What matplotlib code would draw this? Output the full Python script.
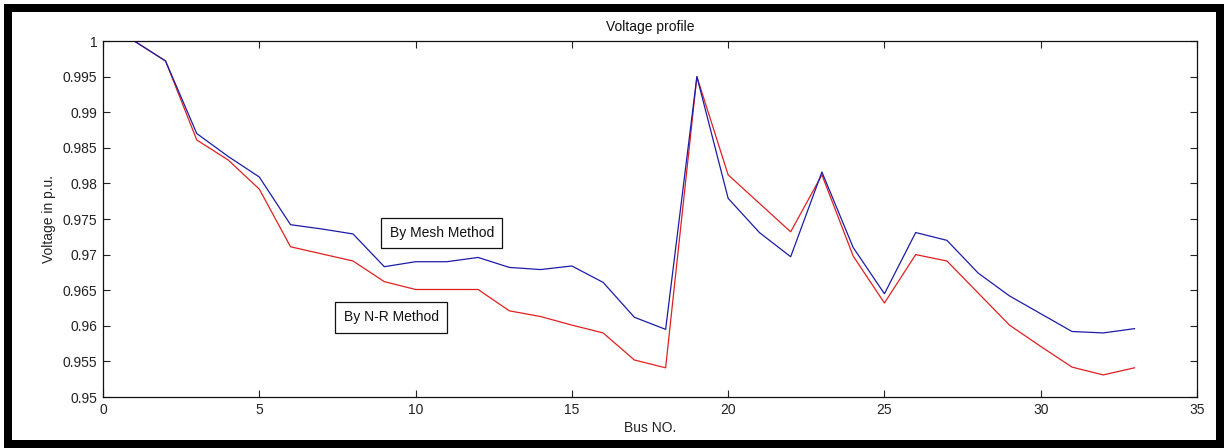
import matplotlib
matplotlib.use("Agg")
import matplotlib.pyplot as plt
from matplotlib.patches import Rectangle
from matplotlib.ticker import FormatStrFormatter

# Bus voltages (p.u.) for the 33-bus feeder
bus_no = list(range(1, 34))
v_mesh = [1.0000, 0.9972, 0.9870, 0.9838, 0.9809, 0.9742, 0.9736, 0.9729,
          0.9683, 0.9690, 0.9690, 0.9696, 0.9682, 0.9679, 0.9684, 0.9661,
          0.9612, 0.9595, 0.9950, 0.9779, 0.9731, 0.9697, 0.9816, 0.9710,
          0.9645, 0.9731, 0.9720, 0.9674, 0.9642, 0.9617, 0.9592, 0.9590,
          0.9596]
v_nr = [1.0000, 0.9972, 0.9861, 0.9833, 0.9792, 0.9711, 0.9701, 0.9691,
        0.9662, 0.9651, 0.9651, 0.9651, 0.9621, 0.9613, 0.9601, 0.9590,
        0.9552, 0.9541, 0.9950, 0.9812, 0.9772, 0.9732, 0.9812, 0.9698,
        0.9632, 0.9700, 0.9691, 0.9646, 0.9601, 0.9571, 0.9542, 0.9531,
        0.9541]

x_ticks = [0, 5, 10, 15, 20, 25, 30, 35]
y_ticks = [0.95, 0.955, 0.96, 0.965, 0.97, 0.975, 0.98, 0.985, 0.99, 0.995, 1.0]

plt.rcParams["font.family"] = ["Liberation Sans", "DejaVu Sans"]

W, H = 1225, 448
fig = plt.figure(figsize=(W / 100, H / 100), dpi=100)
fig.patch.set_facecolor("white")

ax = fig.add_axes([103 / W, (H - 397) / H, 1094 / W, 356 / H])

ax.plot(bus_no, v_nr, color="#e02020", lw=0.9)
ax.plot(bus_no, v_mesh, color="#1c1ca8", lw=0.9)

ax.set_xlim(0, 35)
ax.set_ylim(0.95, 1.0)
ax.set_xticks(x_ticks)
ax.set_yticks(y_ticks)
ax.yaxis.set_major_formatter(FormatStrFormatter("%g"))
ax.xaxis.set_major_formatter(FormatStrFormatter("%g"))

ax.tick_params(direction="in", length=5, width=0.8, top=True, right=True,
               labelsize=10, colors="#222222", pad=4)
for s in ax.spines.values():
    s.set_linewidth(0.9)
    s.set_color("#111111")

ax.set_title("Voltage profile", fontsize=10, pad=7, color="#111111")
ax.set_xlabel("Bus NO.", fontsize=10, labelpad=3, color="#222222")
ax.set_ylabel("Voltage in p.u.", fontsize=10, labelpad=5, color="#222222")

box = dict(boxstyle="square,pad=0.6", fc="white", ec="#111111", lw=0.9)
ax.text(10.84, 0.97303, "By Mesh Method", fontsize=10, ha="center",
        va="center", bbox=box, color="#111111")
ax.text(9.22, 0.96121, "By N-R Method", fontsize=10, ha="center",
        va="center", bbox=box, color="#111111")

# Thick black frame around the whole figure
fig.patches.append(Rectangle((8 / W, 4 / H), (1220 - 8) / W, (440 - 4) / H,
                             transform=fig.transFigure, fill=False,
                             ec="black", lw=8 * 72 / 100))

fig.savefig("out.png", dpi=100, facecolor="white")
